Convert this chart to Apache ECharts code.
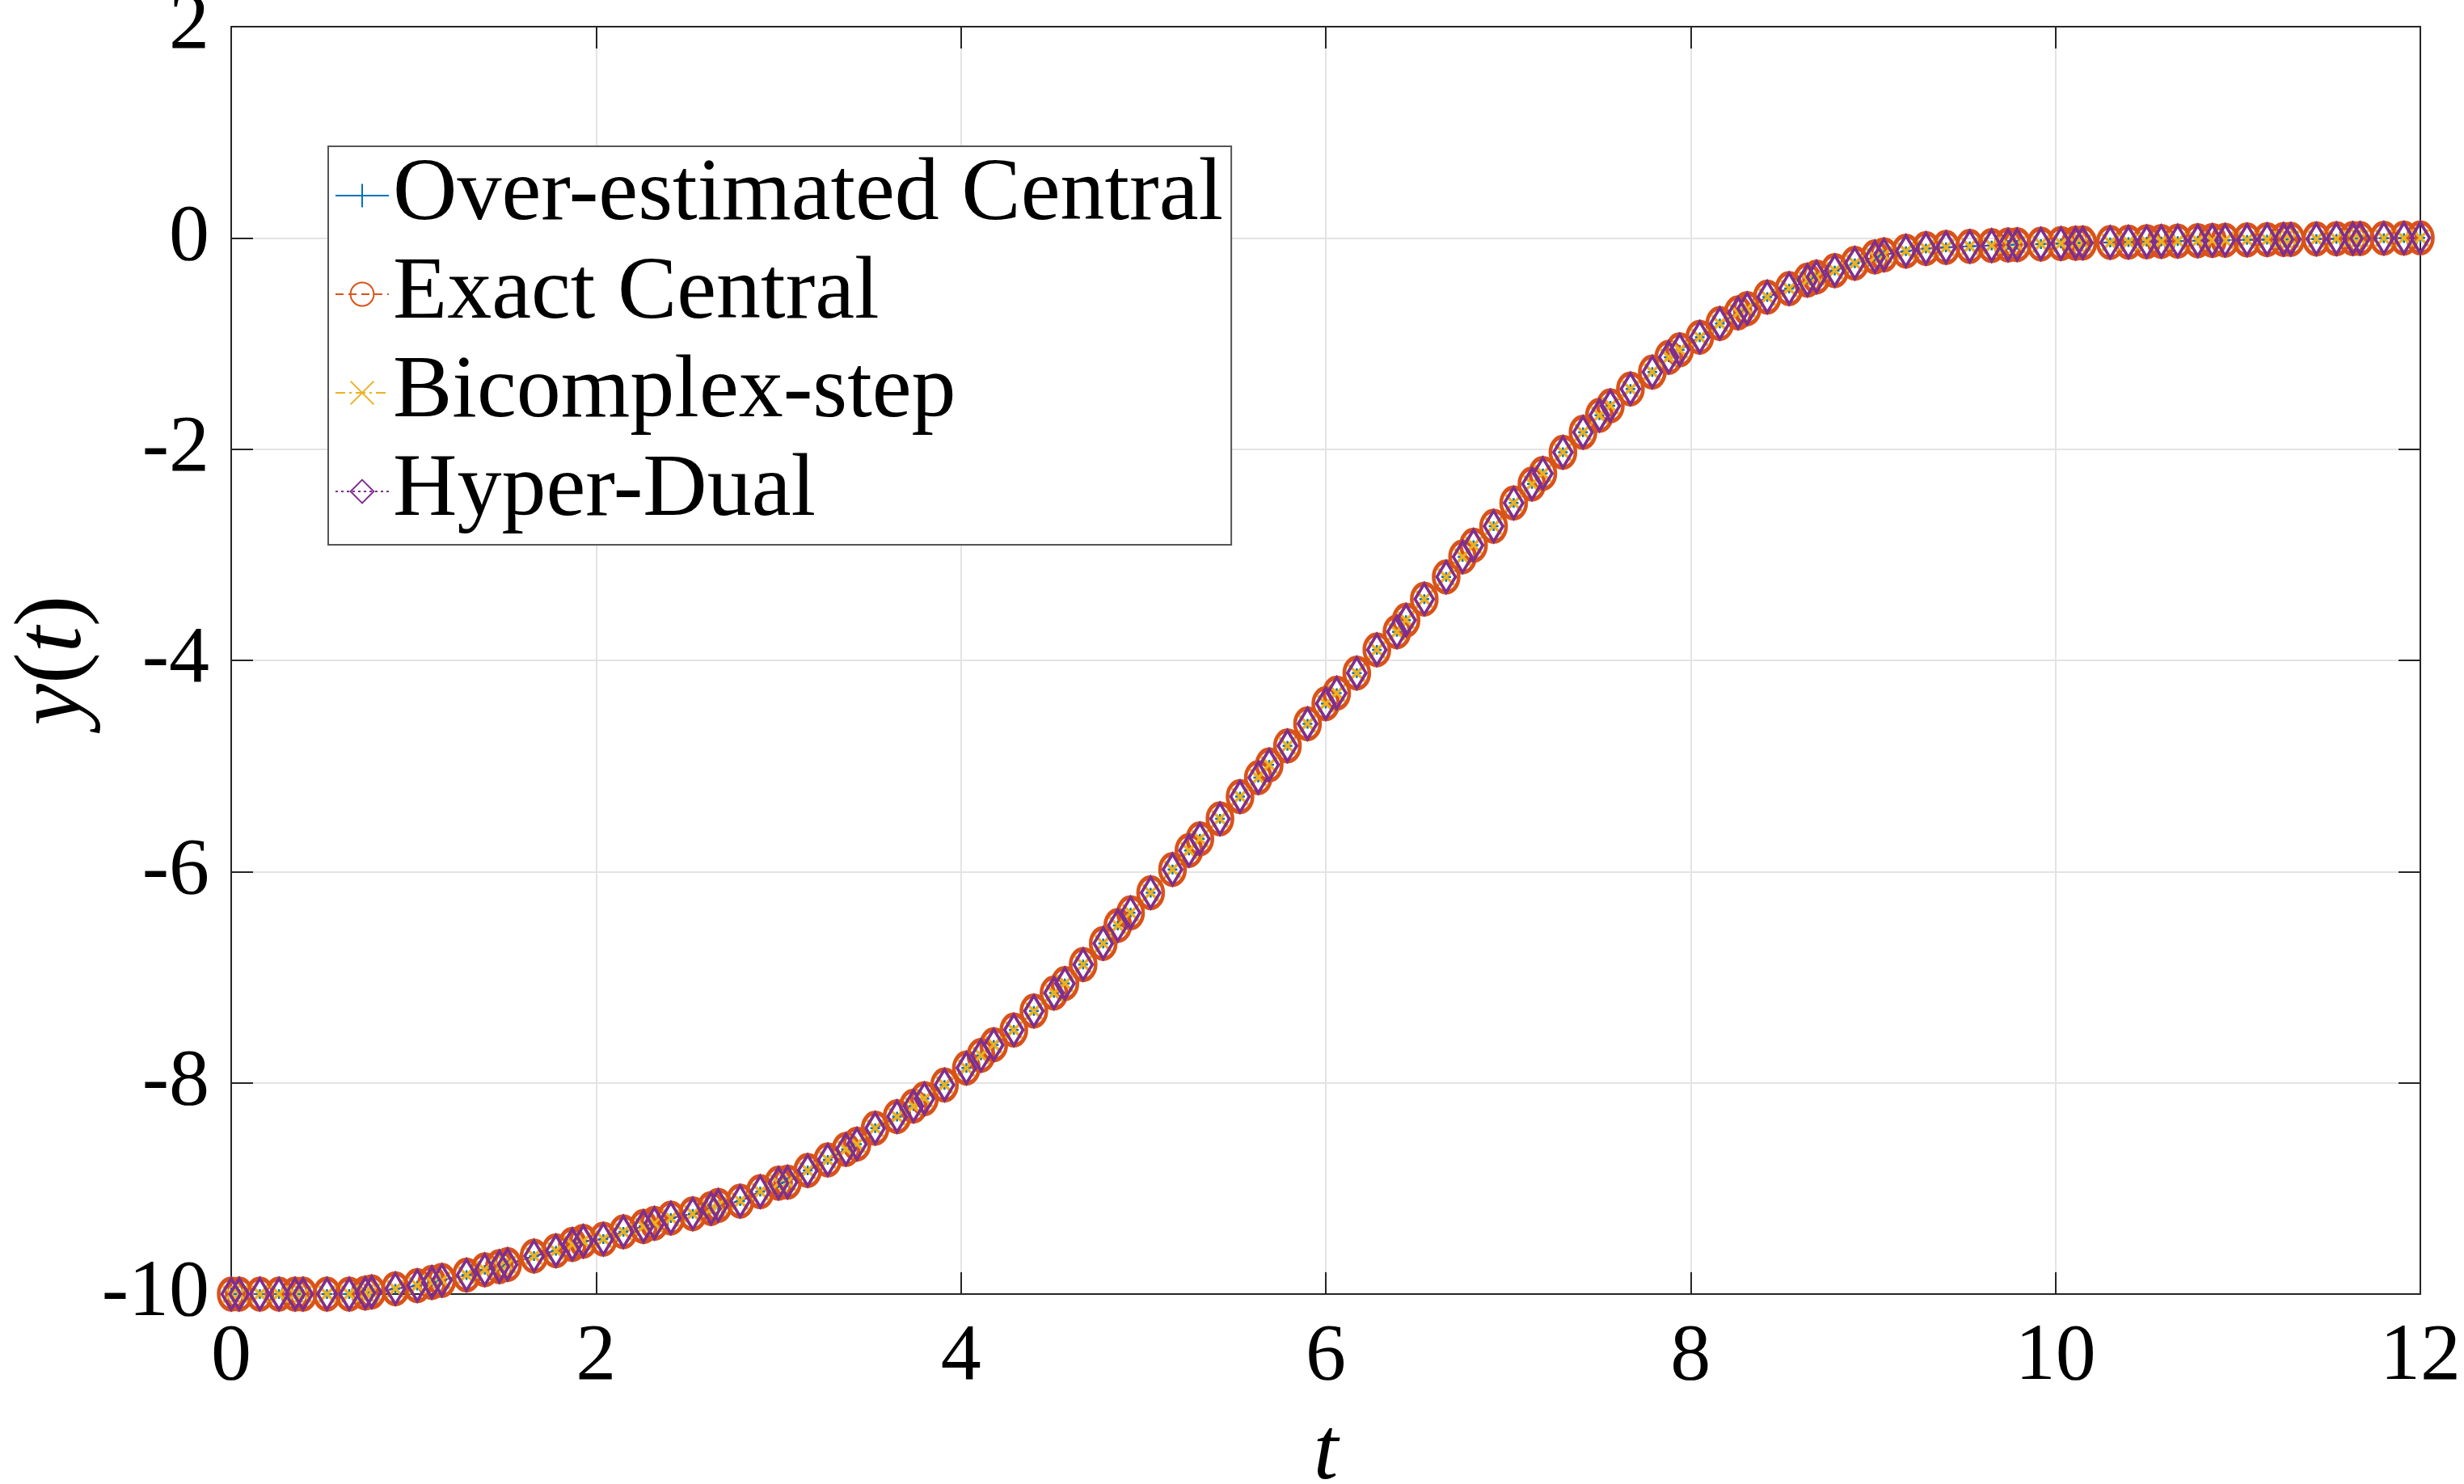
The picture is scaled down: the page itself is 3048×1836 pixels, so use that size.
<!DOCTYPE html>
<html>
<head>
<meta charset="utf-8">
<title>y(t)</title>
<script src="https://cdn.jsdelivr.net/npm/echarts@6/dist/echarts.min.js"></script>
<style>
  html, body { margin: 0; padding: 0; background: #fff; }
  #chart { width: 3048px; height: 1836px; }
</style>
</head>
<body>
<div id="chart"></div>
<script>
  // legend order = draw order (last one on top)
  var methodNames = ['Over-estimated Central', 'Exact Central', 'Bicomplex-step', 'Hyper-Dual'];

  // time steps of the solver
  var tVals = [0, 0.044, 0.157, 0.262, 0.35, 0.394, 0.525, 0.647, 0.735, 0.77,
    0.90, 1.02, 1.10, 1.155, 1.29, 1.39, 1.47, 1.515, 1.66, 1.78,
    1.87, 1.93, 2.04, 2.15, 2.26, 2.32, 2.41, 2.53, 2.63, 2.67,
    2.79, 2.90, 3.00, 3.05, 3.16, 3.27, 3.37, 3.43, 3.53, 3.65,
    3.74, 3.80, 3.91, 4.03, 4.11, 4.18, 4.29, 4.40, 4.51, 4.57,
    4.67, 4.78, 4.86, 4.93, 5.04, 5.16, 5.25, 5.31, 5.42, 5.53,
    5.63, 5.69, 5.79, 5.90, 6.00, 6.06, 6.17, 6.28, 6.39, 6.44,
    6.54, 6.66, 6.75, 6.81, 6.92, 7.03, 7.13, 7.19, 7.30, 7.41,
    7.50, 7.56, 7.67, 7.79, 7.88, 7.94, 8.05, 8.16, 8.26, 8.31,
    8.42, 8.54, 8.64, 8.69, 8.79, 8.90, 9.01, 9.06, 9.18, 9.29,
    9.40, 9.53, 9.65, 9.74, 9.79, 9.92, 10.03, 10.11, 10.15, 10.30,
    10.40, 10.50, 10.58, 10.67, 10.78, 10.86, 10.93, 11.05, 11.16, 11.25,
    11.29, 11.43, 11.54, 11.63, 11.67, 11.80, 11.91, 12.00];

  // y(t) - all four methods give the same curve, markers sit on top of each other
  var yVals = [-10, -10, -10, -10, -10, -10, -10, -10, -9.99, -9.98,
    -9.95, -9.92, -9.89, -9.87, -9.82, -9.77, -9.74, -9.72, -9.64, -9.59,
    -9.53, -9.50, -9.48, -9.41, -9.36, -9.33, -9.28, -9.24, -9.19, -9.16,
    -9.12, -9.03, -8.95, -8.94, -8.83, -8.73, -8.63, -8.58, -8.43, -8.32,
    -8.22, -8.15, -8.02, -7.86, -7.74, -7.64, -7.50, -7.32, -7.15, -7.06,
    -6.88, -6.68, -6.51, -6.39, -6.20, -5.98, -5.80, -5.69, -5.50, -5.29,
    -5.11, -4.99, -4.81, -4.60, -4.41, -4.31, -4.12, -3.90, -3.73, -3.62,
    -3.42, -3.21, -3.02, -2.91, -2.73, -2.51, -2.33, -2.23, -2.03, -1.84,
    -1.68, -1.59, -1.43, -1.27, -1.13, -1.06, -0.94, -0.81, -0.71, -0.67,
    -0.56, -0.48, -0.40, -0.37, -0.31, -0.24, -0.18, -0.16, -0.125, -0.10,
    -0.09, -0.08, -0.072, -0.067, -0.064, -0.058, -0.053, -0.05, -0.048, -0.043,
    -0.04, -0.036, -0.033, -0.03, -0.027, -0.024, -0.022, -0.019, -0.016, -0.014,
    -0.013, -0.01, -0.008, -0.006, -0.005, -0.003, -0.002, 0];

  var xTicks = [0, 2, 4, 6, 8, 10, 12];
  var yTicks = [-10, -8, -6, -4, -2, 0, 2];

  var FONT = 'Liberation Serif';
  var AX = '#262626';

  function pts() {
    return tVals.map(function (t, i) { return [t, yVals[i]]; });
  }

  //  common bits for every line
  function lineSeries(name, color, lineType, symbol, size, bw) {
    return {
      name: name,
      type: 'line',
      data: pts(),
      symbol: symbol,
      symbolSize: size,
      symbolKeepAspect: false,
      silent: true,
      emphasis: { disabled: true },
      lineStyle: { color: color, width: 2, type: lineType },
      itemStyle: { color: 'rgba(255,255,255,0)', borderColor: color, borderWidth: bw }
    };
  }

  var series = [
    lineSeries(methodNames[0], '#0072BD', 'solid', 'path://M5,0L5,10M0,5L10,5', 12, 2.5),
    lineSeries(methodNames[1], '#D95319', [10, 6], 'circle', [31, 38], 5),
    lineSeries(methodNames[2], '#EDB120', [12, 5, 3, 5], 'path://M0,0L10,10M10,0L0,10', 20, 3.5),
    lineSeries(methodNames[3], '#7E2F8E', [3, 4], 'diamond', [23, 38], 4)
  ];

  function baseX(extra) {
    var a = {
      type: 'value', min: xTicks[0], max: xTicks[xTicks.length - 1], interval: 2,
      axisLine: { show: true, onZero: false, lineStyle: { color: AX, width: 2 } },
      axisTick: { show: true, inside: true, length: 27, lineStyle: { color: AX, width: 2 } },
      axisLabel: { show: false },
      splitLine: { show: false }
    };
    return Object.assign(a, extra);
  }
  function baseY(extra) {
    var a = {
      type: 'value', min: yTicks[0], max: yTicks[yTicks.length - 1], interval: 2,
      axisLine: { show: true, onZero: false, lineStyle: { color: AX, width: 2 } },
      axisTick: { show: true, inside: true, length: 27, lineStyle: { color: AX, width: 2 } },
      axisLabel: { show: false },
      splitLine: { show: false }
    };
    return Object.assign(a, extra);
  }

  var option = {
    animation: false,
    backgroundColor: '#fff',
    grid: { left: 286, right: 54, top: 33, bottom: 235, containLabel: false, outerBoundsMode: 'none' },
    legend: {
      orient: 'vertical',
      left: 406, top: 181,
      data: methodNames,
      itemWidth: 66, itemHeight: 36, itemGap: 12,
      padding: [6, 10, 11, 8],
      backgroundColor: '#fff',
      borderColor: '#555', borderWidth: 2, borderRadius: 0,
      selectedMode: false,
      textStyle: { fontFamily: FONT, fontSize: 110, color: '#000', lineHeight: 100 }
    },
    xAxis: [
      baseX({
        position: 'bottom',
        axisLabel: { show: true, fontFamily: FONT, fontSize: 100, color: '#000', margin: 29 },
        splitLine: { show: true, lineStyle: { color: '#e3e3e3', width: 2 } },
        name: 't', nameLocation: 'middle', nameGap: 144, nameMoveOverlap: false,
        nameTextStyle: { fontFamily: FONT, fontStyle: 'italic', fontSize: 110, color: '#000' }
      }),
      baseX({ position: 'top' })
    ],
    yAxis: [
      baseY({
        position: 'left',
        axisLabel: { show: true, fontFamily: FONT, fontSize: 100, color: '#000', margin: 27 },
        splitLine: { show: true, lineStyle: { color: '#e3e3e3', width: 2 } },
        name: '{i|y}{r|(}{i|t}{r|)}', nameLocation: 'middle', nameGap: 160, nameMoveOverlap: false,
        nameTextStyle: {
          rich: {
            i: { fontFamily: FONT, fontStyle: 'italic', fontSize: 116, color: '#000' },
            r: { fontFamily: FONT, fontSize: 116, color: '#000' }
          }
        }
      }),
      baseY({ position: 'right' })
    ],
    series: series
  };

  var chart = echarts.init(document.getElementById('chart'));
  chart.setOption(option);
</script>
</body>
</html>
